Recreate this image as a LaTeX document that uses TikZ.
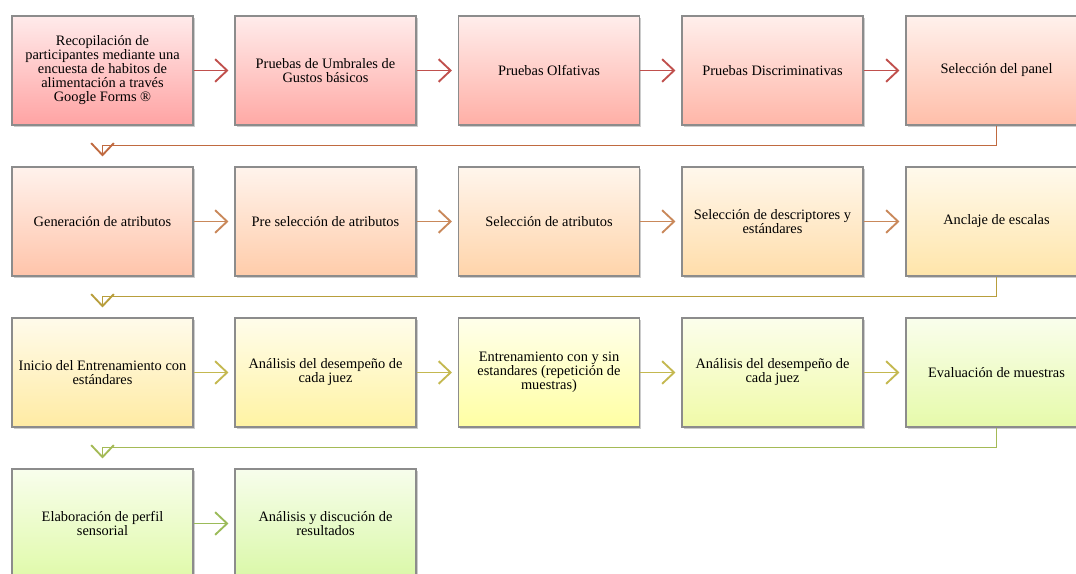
\documentclass[tikz,border=0pt]{standalone}
\usepackage{fontspec}
\setmainfont{Liberation Serif}
\usetikzlibrary{arrows.meta, shadows}
% box colours (bottom of each gradient)
\definecolor{pk1}{HTML}{FFA3A3}
\definecolor{pk2}{HTML}{FFA9A5}
\definecolor{pk3}{HTML}{FFAFA6}
\definecolor{pk4}{HTML}{FFB6A8}
\definecolor{pk5}{HTML}{FFBEA9}
\definecolor{or1}{HTML}{FFC4AA}
\definecolor{or2}{HTML}{FFCCAA}
\definecolor{or3}{HTML}{FFD4AA}
\definecolor{or4}{HTML}{FFDDAA}
\definecolor{or5}{HTML}{FFE5AA}
\definecolor{ye1}{HTML}{FFEBA3}
\definecolor{ye2}{HTML}{FFF3A3}
\definecolor{ye3}{HTML}{FFFFA3}
\definecolor{ye4}{HTML}{F0FAA8}
\definecolor{ye5}{HTML}{E6FAAA}
\definecolor{gr1}{HTML}{E0FAAA}
\definecolor{gr2}{HTML}{DAF8A8}
% line colours
\definecolor{boxgray}{HTML}{8C8C8C}
\definecolor{lnred}{HTML}{C0504D}
\definecolor{lnbrown}{HTML}{C06A40}
\definecolor{lnorange}{HTML}{C9885A}
\definecolor{lngold}{HTML}{B89E3C}
\definecolor{lnolive}{HTML}{C4B850}
\definecolor{lnlime}{HTML}{A4BA56}
\definecolor{lngreen}{HTML}{9BBB59}

\tikzset{
  stepbox/.style={draw=boxgray, line width=0.8pt,
    top color=#1!22!white, bottom color=#1,
    minimum width=135.75pt, minimum height=81.75pt, inner sep=0pt,
    align=center, font=\fontsize{10.8}{10.5}\selectfont,
    drop shadow={opacity=0.4, shadow xshift=1.2pt, shadow yshift=-1.8pt}},
  flow/.style={line width=1.4pt, shorten >=4.5pt,
    -{Straight Barb[length=9pt, width=17pt, line width=1.4pt]}},
  rowlink/.style={flow, shorten >=7.5pt}
}

\begin{document}
\begin{tikzpicture}[x=0.75pt, y=-0.75pt]

\clip (0,0) rectangle (1076,574);

% Row 1
\node[stepbox=pk1] (recop) at (102.5,70.5)
  {Recopilación de\\participantes mediante una\\encuesta de habitos de\\alimentación a través\\Google Forms ®};
\node[stepbox=pk2] (umbral) at (325.5,70.5) {Pruebas de Umbrales de\\Gustos básicos};
\node[stepbox=pk3] (olfat) at (549,70.5) {Pruebas Olfativas};
\node[stepbox=pk4] (discr) at (772.5,70.5) {Pruebas Discriminativas};
\node[stepbox=pk5] (panel) at (996.5,70.5) {Selección del panel};

% Row 2
\node[stepbox=or1] (gener) at (102.5,221.5) {Generación de atributos};
\node[stepbox=or2] (presel) at (325.5,221.5) {Pre selección de atributos};
\node[stepbox=or3] (selatr) at (549,221.5) {Selección de atributos};
\node[stepbox=or4] (descr) at (772.5,221.5) {Selección de descriptores y\\estándares};
\node[stepbox=or5] (anclaje) at (996.5,221.5) {Anclaje de escalas};

% Row 3
\node[stepbox=ye1] (inicio) at (102.5,372.5) {Inicio del Entrenamiento con\\estándares};
\node[stepbox=ye2] (anal1) at (325.5,372.5) {Análisis del desempeño de\\cada juez};
\node[stepbox=ye3] (entren) at (549,372.5) {Entrenamiento con y sin\\estandares (repetición de\\muestras)};
\node[stepbox=ye4] (anal2) at (772.5,372.5) {Análisis del desempeño de\\cada juez};
\node[stepbox=ye5] (evalm) at (996.5,372.5) {Evaluación de muestras};

% Row 4
\node[stepbox=gr1] (perfil) at (102.5,523.5) {Elaboración de perfil\\sensorial};
\node[stepbox=gr2] (result) at (325.5,523.5) {Análisis y discución de\\resultados};

% arrows along each row
\draw[flow, lnred] (recop) -- (umbral);
\draw[flow, lnred] (umbral) -- (olfat);
\draw[flow, lnred] (olfat) -- (discr);
\draw[flow, lnred] (discr) -- (panel);

\draw[flow, lnorange] (gener) -- (presel);
\draw[flow, lnorange] (presel) -- (selatr);
\draw[flow, lnorange] (selatr) -- (descr);
\draw[flow, lnorange] (descr) -- (anclaje);

\draw[flow, lnolive] (inicio) -- (anal1);
\draw[flow, lnolive] (anal1) -- (entren);
\draw[flow, lnolive] (entren) -- (anal2);
\draw[flow, lnolive] (anal2) -- (evalm);

\draw[flow, lngreen] (perfil) -- (result);

% links between rows
\draw[rowlink, lnbrown] (panel.south) -- ++(0,20) -| (gener.north);
\draw[rowlink, lngold] (anclaje.south) -- ++(0,20) -| (inicio.north);
\draw[rowlink, lnlime] (evalm.south) -- ++(0,20) -| (perfil.north);

\end{tikzpicture}
\end{document}
